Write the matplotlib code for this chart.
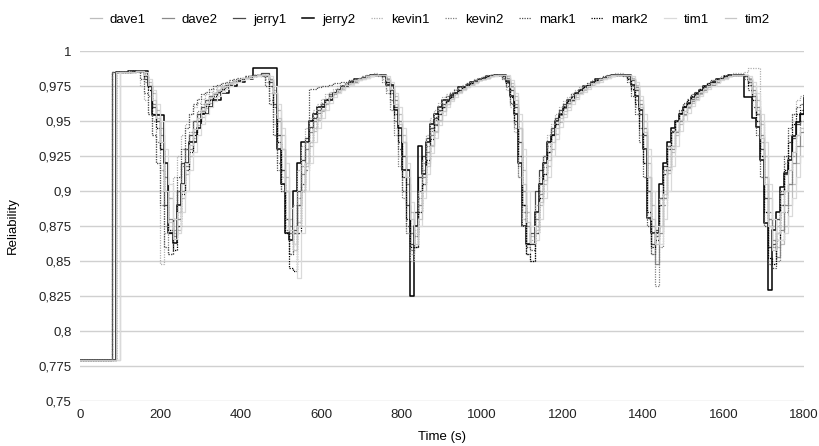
import matplotlib
matplotlib.use("Agg")
import matplotlib.pyplot as plt

plt.rcParams['font.family'] = ['Liberation Sans', 'DejaVu Sans']

# time grid (s), 10 s sampling
time_s = list(range(0, 1810, 10))

series_names = ["dave1", "dave2", "jerry1", "jerry2", "kevin1",
                "kevin2", "mark1", "mark2", "tim1", "tim2"]

dave1 = [
    .779, .779, .779, .779, .779, .779, .779, .779, .779, .779,
    .985, .985, .985, .986, .986, .986, .984, .978, .97, .958,
    .945, .92, .895, .87, .872, .895, .912, .925, .938, .947,
    .953, .959, .963, .967, .97, .972, .974, .976, .977, .979,
    .98, .981, .982, .982, .982, .983, .983, .98, .972, .958,
    .94, .91, .88, .87, .878, .9, .918, .932, .943, .951,
    .957, .962, .966, .969, .971, .973, .975, .977, .978, .979,
    .98, .981, .982, .983, .983, .983, .981, .976, .968, .955,
    .94, .915, .885, .868, .885, .905, .92, .933, .943, .951,
    .957, .962, .966, .969, .971, .973, .974, .976, .977, .979,
    .98, .981, .982, .982, .983, .983, .982, .977, .968, .95,
    .915, .885, .868, .87, .89, .905, .918, .93, .941, .949,
    .955, .96, .964, .967, .97, .972, .974, .976, .977, .979,
    .98, .981, .982, .983, .983, .983, .983, .981, .976, .965,
    .95, .92, .89, .868, .875, .895, .913, .928, .94, .948,
    .954, .959, .963, .966, .969, .972, .974, .976, .978, .98,
    .981, .982, .983, .983, .983, .983, .981, .975, .965, .948,
    .925, .895, .875, .86, .862, .875, .89, .905, .92, .932, .945]

dave2 = [
    .779, .779, .779, .779, .779, .779, .779, .779, .779, .985,
    .985, .985, .985, .986, .986, .986, .982, .975, .962, .955,
    .94, .91, .88, .868, .88, .9, .918, .93, .942, .95,
    .957, .962, .966, .969, .971, .973, .975, .976, .978, .979,
    .98, .981, .982, .982, .983, .983, .983, .98, .97, .95,
    .93, .9, .875, .862, .89, .912, .93, .942, .95, .956,
    .961, .965, .968, .97, .972, .974, .976, .977, .978, .98,
    .981, .982, .982, .983, .983, .983, .98, .975, .965, .95,
    .935, .905, .87, .86, .89, .91, .928, .94, .948, .955,
    .96, .964, .967, .97, .972, .973, .975, .976, .978, .979,
    .98, .981, .982, .983, .983, .983, .981, .975, .962, .945,
    .9, .875, .862, .88, .898, .912, .928, .94, .948, .954,
    .959, .963, .966, .969, .971, .973, .975, .977, .978, .98,
    .981, .982, .982, .983, .983, .983, .983, .98, .974, .962,
    .945, .91, .875, .848, .87, .895, .915, .93, .942, .95,
    .955, .96, .964, .967, .97, .972, .975, .976, .978, .98,
    .981, .982, .983, .983, .983, .983, .98, .972, .96, .94,
    .91, .88, .865, .853, .872, .89, .905, .92, .932, .942, .95]

jerry1 = [
    .779, .779, .779, .779, .779, .779, .779, .779, .985, .985,
    .985, .985, .985, .985, .986, .986, .98, .975, .96, .95,
    .93, .89, .87, .88, .9, .92, .93, .94, .95, .955,
    .96, .965, .968, .97, .972, .974, .976, .977, .978, .979,
    .98, .981, .982, .983, .983, .984, .984, .978, .962, .94,
    .915, .88, .87, .872, .9, .922, .938, .946, .952, .958,
    .962, .966, .969, .971, .973, .975, .976, .978, .979, .98,
    .981, .982, .983, .983, .983, .982, .978, .972, .96, .94,
    .925, .89, .862, .885, .91, .925, .938, .945, .952, .958,
    .962, .966, .969, .97, .972, .974, .976, .977, .979, .98,
    .981, .982, .983, .983, .983, .982, .979, .972, .96, .935,
    .89, .862, .87, .9, .915, .925, .935, .945, .952, .958,
    .962, .965, .968, .97, .973, .975, .976, .978, .979, .98,
    .981, .982, .983, .983, .983, .983, .982, .979, .972, .955,
    .94, .9, .862, .872, .895, .918, .932, .943, .95, .956,
    .96, .963, .966, .969, .972, .974, .976, .978, .98, .981,
    .982, .983, .983, .983, .983, .982, .978, .968, .955, .93,
    .895, .86, .862, .88, .898, .912, .925, .938, .948, .955, .962]

jerry2 = [
    .779, .779, .779, .779, .779, .779, .779, .779, .779, .985,
    .985, .985, .986, .986, .986, .986, .986, .975, .954, .954,
    .954, .92, .87, .863, .89, .905, .92, .935, .935, .945,
    .955, .955, .96, .965, .965, .97, .97, .975, .975, .978,
    .978, .98, .98, .988, .988, .988, .988, .988, .988, .93,
    .905, .87, .865, .9, .92, .935, .935, .95, .955, .96,
    .96, .965, .965, .97, .972, .975, .975, .978, .98, .98,
    .981, .982, .983, .983, .983, .983, .976, .976, .958, .945,
    .915, .915, .825, .875, .932, .912, .935, .948, .955, .96,
    .965, .965, .968, .97, .974, .974, .976, .978, .978, .98,
    .981, .982, .982, .983, .983, .983, .978, .968, .955, .92,
    .875, .862, .862, .885, .905, .92, .935, .94, .95, .955,
    .96, .965, .965, .97, .972, .975, .975, .978, .98, .98,
    .981, .982, .983, .983, .983, .983, .983, .976, .968, .958,
    .93, .881, .87, .87, .905, .92, .935, .945, .95, .955,
    .96, .963, .967, .97, .972, .975, .975, .978, .98, .98,
    .982, .983, .983, .983, .983, .967, .967, .952, .946, .922,
    .877, .829, .872, .885, .903, .913, .922, .939, .949, .955, .968]

kevin1 = [
    .779, .779, .779, .779, .779, .779, .779, .779, .985, .985,
    .985, .985, .986, .986, .985, .975, .965, .955, .94, .92,
    .848, .87, .895, .91, .925, .94, .948, .955, .96, .963,
    .966, .969, .971, .973, .975, .976, .977, .978, .979, .98,
    .981, .982, .982, .983, .983, .983, .98, .97, .955, .935,
    .91, .88, .87, .89, .915, .932, .945, .952, .958, .962,
    .966, .969, .971, .973, .975, .976, .977, .979, .98, .981,
    .982, .983, .983, .984, .983, .98, .972, .962, .945, .925,
    .9, .87, .85, .872, .9, .922, .94, .952, .958, .963,
    .967, .969, .971, .973, .974, .976, .977, .978, .98, .981,
    .982, .983, .983, .983, .983, .98, .972, .96, .942, .91,
    .875, .855, .865, .89, .91, .925, .94, .948, .955, .96,
    .964, .967, .97, .972, .974, .976, .977, .979, .98, .981,
    .982, .983, .983, .984, .984, .983, .98, .972, .96, .94,
    .92, .88, .855, .87, .895, .915, .932, .943, .95, .957,
    .962, .965, .968, .97, .973, .975, .977, .979, .98, .982,
    .983, .983, .984, .984, .984, .985, .988, .988, .988, .95,
    .91, .875, .86, .875, .9, .92, .94, .955, .965, .968, .97]

kevin2 = [
    .779, .779, .779, .779, .779, .779, .779, .779, .779, .985,
    .985, .985, .985, .986, .986, .985, .978, .968, .95, .935,
    .915, .875, .855, .872, .9, .918, .93, .942, .95, .957,
    .962, .965, .968, .97, .972, .974, .976, .977, .978, .98,
    .981, .982, .982, .983, .983, .982, .978, .965, .948, .92,
    .9, .872, .855, .87, .895, .918, .935, .945, .953, .958,
    .963, .966, .969, .971, .973, .975, .977, .978, .98, .981,
    .982, .983, .983, .983, .982, .978, .97, .958, .94, .918,
    .895, .87, .855, .868, .895, .915, .932, .943, .951, .957,
    .962, .966, .968, .97, .972, .974, .976, .977, .979, .98,
    .981, .982, .983, .983, .983, .98, .974, .962, .945, .91,
    .88, .855, .85, .875, .9, .917, .932, .943, .95, .956,
    .961, .965, .968, .97, .972, .974, .976, .978, .979, .98,
    .981, .982, .983, .983, .983, .983, .981, .975, .965, .95,
    .93, .9, .87, .832, .86, .89, .915, .932, .943, .951,
    .957, .962, .966, .969, .971, .974, .976, .977, .979, .981,
    .982, .983, .983, .983, .983, .983, .978, .968, .955, .935,
    .91, .885, .86, .85, .865, .885, .905, .925, .94, .95, .955]

mark1 = [
    .779, .779, .779, .779, .779, .779, .779, .779, .985, .985,
    .985, .985, .985, .985, .986, .98, .97, .955, .94, .92,
    .89, .86, .855, .88, .91, .93, .945, .955, .962, .966,
    .969, .971, .973, .975, .976, .977, .978, .979, .98, .981,
    .981, .982, .982, .983, .983, .982, .975, .962, .94, .915,
    .9, .87, .855, .87, .89, .905, .915, .973, .973, .974,
    .975, .975, .976, .977, .977, .978, .978, .979, .98, .98,
    .981, .982, .983, .983, .983, .982, .976, .965, .95, .93,
    .9, .875, .858, .87, .9, .92, .935, .945, .953, .96,
    .965, .968, .97, .972, .974, .975, .977, .978, .979, .98,
    .981, .982, .983, .983, .983, .981, .975, .963, .948, .918,
    .885, .86, .858, .885, .905, .92, .935, .945, .952, .958,
    .962, .966, .969, .971, .973, .975, .977, .978, .98, .981,
    .982, .983, .983, .983, .983, .982, .978, .968, .955, .935,
    .91, .875, .855, .868, .895, .915, .932, .943, .951, .958,
    .963, .966, .969, .971, .973, .975, .977, .979, .98, .981,
    .982, .983, .983, .983, .983, .98, .972, .96, .94, .91,
    .875, .848, .845, .87, .9, .925, .945, .955, .96, .962, .964]

mark2 = [
    .779, .779, .779, .779, .779, .779, .779, .779, .779, .985,
    .985, .985, .985, .986, .986, .986, .982, .972, .955, .945,
    .93, .9, .872, .858, .875, .898, .915, .928, .94, .95,
    .956, .961, .965, .968, .971, .973, .975, .977, .978, .979,
    .98, .981, .982, .982, .983, .983, .982, .975, .96, .935,
    .905, .87, .845, .843, .87, .9, .92, .935, .945, .952,
    .958, .963, .967, .97, .972, .974, .976, .977, .979, .98,
    .981, .982, .983, .983, .983, .982, .978, .97, .955, .935,
    .91, .88, .86, .86, .885, .905, .922, .937, .947, .955,
    .96, .964, .967, .97, .972, .974, .976, .977, .978, .98,
    .981, .982, .983, .983, .983, .982, .977, .967, .95, .925,
    .89, .855, .85, .87, .895, .912, .928, .94, .948, .955,
    .96, .964, .967, .97, .972, .974, .976, .978, .979, .98,
    .981, .982, .983, .983, .983, .983, .98, .973, .962, .945,
    .92, .885, .86, .865, .89, .912, .93, .942, .95, .956,
    .961, .965, .968, .97, .973, .975, .977, .978, .98, .981,
    .982, .983, .983, .983, .983, .982, .976, .965, .95, .925,
    .885, .852, .848, .865, .89, .915, .935, .948, .955, .958, .96]

tim1 = [
    .779, .779, .779, .779, .779, .779, .779, .779, .779, .779,
    .985, .985, .985, .985, .986, .986, .985, .98, .972, .962,
    .95, .93, .905, .88, .87, .885, .9, .915, .928, .94,
    .948, .955, .96, .964, .968, .971, .973, .975, .977, .978,
    .979, .98, .981, .982, .982, .983, .983, .982, .975, .962,
    .945, .92, .888, .862, .838, .87, .9, .92, .935, .945,
    .952, .958, .963, .967, .97, .972, .974, .976, .977, .979,
    .98, .981, .982, .983, .983, .983, .982, .978, .97, .96,
    .945, .92, .892, .87, .875, .895, .912, .927, .938, .947,
    .954, .96, .964, .967, .97, .972, .974, .975, .977, .979,
    .98, .981, .982, .982, .983, .983, .983, .979, .97, .955,
    .93, .9, .875, .865, .88, .895, .91, .925, .937, .946,
    .953, .958, .962, .966, .969, .971, .973, .975, .977, .978,
    .98, .981, .982, .983, .983, .983, .983, .982, .978, .968,
    .955, .93, .9, .875, .862, .88, .9, .918, .932, .943,
    .95, .956, .961, .965, .968, .971, .973, .975, .977, .979,
    .98, .982, .983, .983, .983, .983, .982, .978, .97, .955,
    .935, .905, .88, .865, .865, .87, .882, .895, .91, .925, .94]

tim2 = [
    .779, .779, .779, .779, .779, .779, .779, .779, .779, .985,
    .985, .985, .985, .985, .986, .986, .983, .976, .965, .952,
    .935, .9, .878, .866, .885, .905, .92, .933, .944, .952,
    .958, .963, .967, .97, .972, .974, .975, .977, .978, .98,
    .981, .981, .982, .982, .983, .983, .983, .979, .97, .952,
    .93, .9, .872, .858, .875, .9, .92, .935, .945, .952,
    .958, .963, .967, .97, .972, .974, .976, .977, .979, .98,
    .981, .982, .983, .983, .983, .983, .979, .973, .962, .948,
    .935, .91, .88, .862, .88, .9, .918, .932, .942, .95,
    .957, .962, .966, .969, .971, .973, .975, .976, .978, .979,
    .98, .981, .982, .983, .983, .983, .98, .974, .965, .945,
    .905, .878, .863, .872, .892, .908, .922, .935, .945, .952,
    .957, .962, .966, .969, .971, .973, .975, .977, .978, .98,
    .981, .982, .983, .983, .983, .983, .983, .98, .973, .96,
    .942, .91, .88, .862, .875, .898, .917, .932, .943, .951,
    .957, .961, .965, .968, .971, .973, .975, .977, .979, .98,
    .981, .982, .983, .983, .983, .983, .979, .97, .958, .938,
    .905, .875, .858, .87, .885, .9, .915, .928, .94, .945, .948]

series_values = [dave1, dave2, jerry1, jerry2, kevin1,
                 kevin2, mark1, mark2, tim1, tim2]

x_ticks = [0, 200, 400, 600, 800, 1000, 1200, 1400, 1600, 1800]
y_ticks = [0.75, 0.775, 0.8, 0.825, 0.85, 0.875, 0.9, 0.925, 0.95, 0.975, 1.0]
y_tick_labels = ["0,75", "0,775", "0,8", "0,825", "0,85", "0,875",
                 "0,9", "0,925", "0,95", "0,975", "1"]

styles = {
    "dave1":  dict(color="#bdbdbd", ls="-", lw=0.9),
    "dave2":  dict(color="#8a8a8a", ls="-", lw=0.9),
    "jerry1": dict(color="#4a4a4a", ls="-", lw=0.9),
    "jerry2": dict(color="#000000", ls="-", lw=1.1),
    "kevin1": dict(color="#b0b0b0", ls=(0, (1, 1)), lw=0.9),
    "kevin2": dict(color="#808080", ls=(0, (1, 1)), lw=0.9),
    "mark1":  dict(color="#505050", ls=(0, (1, 1)), lw=0.9),
    "mark2":  dict(color="#000000", ls=(0, (1, 1)), lw=0.9),
    "tim1":   dict(color="#dadada", ls="-", lw=0.9),
    "tim2":   dict(color="#c6c6c6", ls="-", lw=0.9),
}

fig = plt.figure(figsize=(8.19, 4.46), dpi=100)
ax = fig.add_axes([80/819, 1 - 401/446, 724/819, 350/446])

for name, vals in zip(series_names, series_values):
    st = styles[name]
    ax.plot(time_s[:len(vals)], vals, drawstyle="steps-post",
            color=st["color"], linestyle=st["ls"], linewidth=st["lw"],
            label=name)

ax.set_xlim(0, 1800)
ax.set_ylim(0.75, 1.0)
ax.set_xticks(x_ticks)
ax.set_xticklabels([str(v) for v in x_ticks])
ax.set_yticks(y_ticks)
ax.set_yticklabels(y_tick_labels)
ax.tick_params(axis="both", length=0, labelsize=9.5, colors="#222222", pad=6)
ax.grid(axis="y", color="#d0d0d0", linewidth=1.0)
ax.set_axisbelow(True)
for sp in ax.spines.values():
    sp.set_visible(False)

ax.set_xlabel("Time (s)", fontsize=9.5, labelpad=7)
ax.set_ylabel("Reliability", fontsize=9.5, labelpad=14)

leg = ax.legend(loc="center", bbox_to_anchor=(0.483, 1.09), ncol=10,
                frameon=False, fontsize=9.5, handlelength=0.9,
                handletextpad=0.6, columnspacing=1.2)

fig.savefig("out.png", dpi=100)
